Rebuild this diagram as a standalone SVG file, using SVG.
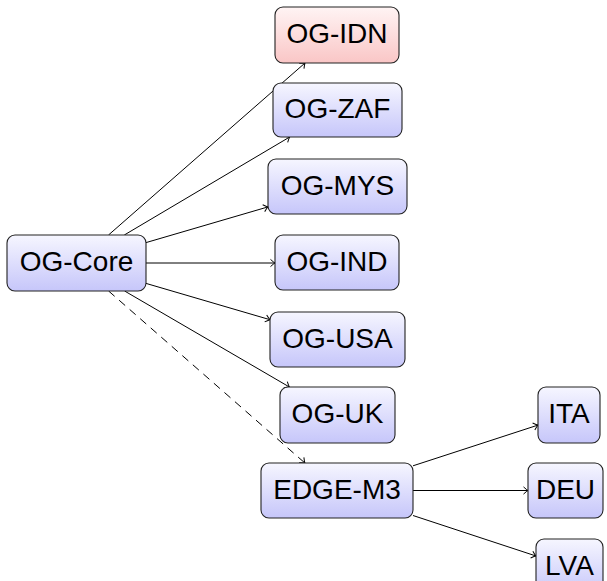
<svg xmlns="http://www.w3.org/2000/svg" width="607" height="581" viewBox="0 0 607 581">
<defs>
<linearGradient id="gb" x1="0" y1="0" x2="0" y2="1">
<stop offset="0" stop-color="#f6f6ff"/>
<stop offset="1" stop-color="#c6c6fa"/>
</linearGradient>
<linearGradient id="gr" x1="0" y1="0" x2="0" y2="1">
<stop offset="0" stop-color="#fff4f4"/>
<stop offset="1" stop-color="#fac6c6"/>
</linearGradient>
<marker id="ar" markerUnits="userSpaceOnUse" markerWidth="12" markerHeight="12" viewBox="-6 -6 12 12" refX="0" refY="0" orient="auto">
<path d="M-4.5,-3.6 Q-1.2,-0.6 0,0 Q-1.2,0.6 -4.5,3.6" fill="none" stroke="#000" stroke-width="1"/>
</marker>
</defs>
<style>
.n rect{fill:url(#gb);stroke:#222;stroke-width:1.1}
.n.red rect{fill:url(#gr)}
.n text{font-family:"Liberation Sans",Arial,sans-serif;font-size:28px;fill:#000;text-anchor:middle}
.e line{stroke:#000;stroke-width:1;fill:none;marker-end:url(#ar)}
.e line.d{stroke-dasharray:8,6}
</style>
<rect width="607" height="581" fill="#fff"/>
<g id="connectors" class="e">
<line x1="108.5" y1="235" x2="305" y2="63"/>
<line x1="124.3" y1="235" x2="289.7" y2="137"/>
<line x1="146" y1="242.6" x2="268" y2="206.9"/>
<line x1="146" y1="263" x2="275" y2="263"/>
<line x1="146" y1="283.4" x2="270" y2="319.7"/>
<line x1="124.6" y1="291" x2="289.4" y2="387"/>
<line class="d" x1="108.6" y1="291" x2="304.9" y2="463"/>
<line x1="413" y1="465.8" x2="538" y2="425.1"/>
<line x1="413" y1="490.5" x2="528" y2="490.5"/>
<line x1="413" y1="515.5" x2="536" y2="556"/>
</g>
<g id="og-core" class="n"><rect x="7" y="235" width="139" height="56" rx="8"/><text x="76.5" y="271">OG-Core</text></g>
<g id="og-idn" class="n red"><rect x="275" y="7" width="124" height="56" rx="8"/><text x="337" y="43">OG-IDN</text></g>
<g id="og-zaf" class="n"><rect x="273" y="83" width="129" height="54" rx="8"/><text x="337.5" y="118">OG-ZAF</text></g>
<g id="og-mys" class="n"><rect x="268" y="159" width="139" height="55" rx="8"/><text x="337.5" y="194.5">OG-MYS</text></g>
<g id="og-ind" class="n"><rect x="275" y="235" width="124" height="55" rx="8"/><text x="337" y="270.5">OG-IND</text></g>
<g id="og-usa" class="n"><rect x="270" y="312" width="135" height="55" rx="8"/><text x="337.5" y="347.5">OG-USA</text></g>
<g id="og-uk" class="n"><rect x="280" y="387" width="115" height="56" rx="8"/><text x="337.5" y="423">OG-UK</text></g>
<g id="edge-m3" class="n"><rect x="261" y="463" width="152" height="55" rx="8"/><text x="337" y="498.5">EDGE-M3</text></g>
<g id="ita" class="n"><rect x="538" y="387" width="62" height="56" rx="8"/><text x="569" y="423">ITA</text></g>
<g id="deu" class="n"><rect x="528" y="463" width="75" height="55" rx="8"/><text x="565.5" y="498.5">DEU</text></g>
<g id="lva" class="n"><rect x="536" y="539" width="67" height="56" rx="8"/><text x="569.5" y="575">LVA</text></g>
</svg>
